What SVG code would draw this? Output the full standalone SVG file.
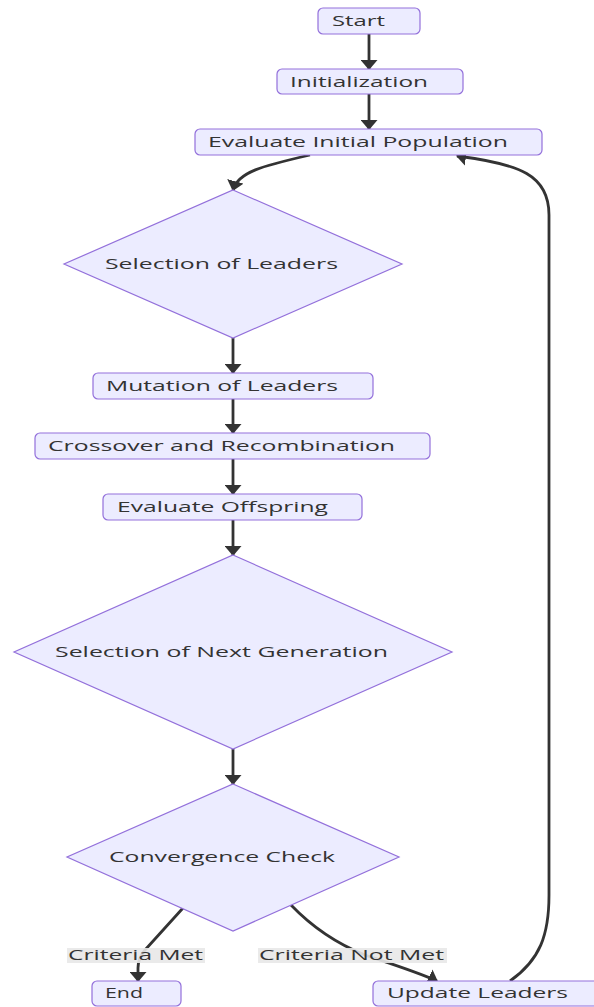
<svg xmlns="http://www.w3.org/2000/svg" width="594" height="1007" viewBox="0 0 594 1007">
<style>
.node{fill:#ECECFF;stroke:#9370DB;stroke-width:1.2}
.lbl{font-family:"Open Sans","DejaVu Sans",sans-serif;font-size:15px;fill:#333333}
.edge{fill:none;stroke:#333333;stroke-width:2.8}
.ebg{fill:#e8e8e8;opacity:0.9}
</style>
<defs>
<marker id="arr" viewBox="0 0 10 10" preserveAspectRatio="none" refX="9" refY="5" markerUnits="userSpaceOnUse" markerWidth="10" markerHeight="17" orient="auto">
<path d="M0,0 L10,5 L0,10 z" fill="#333333"/>
</marker>
</defs>
<rect width="594" height="1007" fill="#ffffff"/>
<g id="connectors">
<path class="edge" d="M369 34 L369 69" marker-end="url(#arr)"/>
<path class="edge" d="M369 94 L369 129" marker-end="url(#arr)"/>
<path class="edge" d="M310 155 C 262 166, 238 172, 233 190" marker-end="url(#arr)"/>
<path class="edge" d="M233 338 L233 373" marker-end="url(#arr)"/>
<path class="edge" d="M233 399 L233 433" marker-end="url(#arr)"/>
<path class="edge" d="M233 459 L233 494" marker-end="url(#arr)"/>
<path class="edge" d="M233 520 L233 555" marker-end="url(#arr)"/>
<path class="edge" d="M233 749 L233 784" marker-end="url(#arr)"/>
<path class="edge" d="M183 908 L145 950 Q138 958 138 968 L138 981" marker-end="url(#arr)"/>
<path class="edge" d="M291 905 C 315 930, 340 945, 365 955 C 395 965, 420 973, 437 981" marker-end="url(#arr)"/>
<path class="edge" d="M510 981 C 540 960, 549 935, 549 895 L549 215 C 549 175, 520 164, 457 156" marker-end="url(#arr)"/>
</g>
<g id="edge-labels">
<g id="label-met">
<rect class="ebg" x="67" y="948" width="138" height="15"/>
<text class="lbl" x="68" y="960" textLength="135" lengthAdjust="spacingAndGlyphs">Criteria Met</text>
</g>
<g id="label-notmet">
<rect class="ebg" x="258" y="948" width="189" height="15"/>
<text class="lbl" x="259" y="960" textLength="185" lengthAdjust="spacingAndGlyphs">Criteria Not Met</text>
</g>
</g>
<g id="start">
<rect class="node" x="318" y="8" width="102" height="26" rx="5"/>
<text class="lbl" x="332" y="26" textLength="53" lengthAdjust="spacingAndGlyphs">Start</text>
</g>
<g id="init">
<rect class="node" x="277" y="69" width="186" height="25" rx="5"/>
<text class="lbl" x="290" y="86.5" textLength="138" lengthAdjust="spacingAndGlyphs">Initialization</text>
</g>
<g id="evalInit">
<rect class="node" x="195" y="129" width="347" height="26" rx="5"/>
<text class="lbl" x="208" y="147" textLength="300" lengthAdjust="spacingAndGlyphs">Evaluate Initial Population</text>
</g>
<g id="selLeaders">
<polygon class="node" points="233,190 402,264 233,338 64,264"/>
<text class="lbl" x="105" y="269" textLength="233" lengthAdjust="spacingAndGlyphs">Selection of Leaders</text>
</g>
<g id="mutation">
<rect class="node" x="93" y="373" width="280" height="26" rx="5"/>
<text class="lbl" x="106" y="391" textLength="232" lengthAdjust="spacingAndGlyphs">Mutation of Leaders</text>
</g>
<g id="crossover">
<rect class="node" x="35" y="433" width="395" height="26" rx="5"/>
<text class="lbl" x="48" y="451" textLength="347" lengthAdjust="spacingAndGlyphs">Crossover and Recombination</text>
</g>
<g id="evalOff">
<rect class="node" x="103" y="494" width="259" height="26" rx="5"/>
<text class="lbl" x="117" y="512" textLength="211" lengthAdjust="spacingAndGlyphs">Evaluate Offspring</text>
</g>
<g id="selNext">
<polygon class="node" points="233,555 452,652 233,749 14,652"/>
<text class="lbl" x="55" y="657" textLength="333" lengthAdjust="spacingAndGlyphs">Selection of Next Generation</text>
</g>
<g id="convergence">
<polygon class="node" points="233,784 399,857 233,931 67,857"/>
<text class="lbl" x="109" y="862" textLength="226" lengthAdjust="spacingAndGlyphs">Convergence Check</text>
</g>
<g id="end">
<rect class="node" x="92" y="981" width="89" height="25" rx="5"/>
<text class="lbl" x="105" y="998" textLength="38" lengthAdjust="spacingAndGlyphs">End</text>
</g>
<g id="update">
<rect class="node" x="373" y="981" width="230" height="25" rx="5"/>
<text class="lbl" x="387" y="998" textLength="181" lengthAdjust="spacingAndGlyphs">Update Leaders</text>
</g>
</svg>
